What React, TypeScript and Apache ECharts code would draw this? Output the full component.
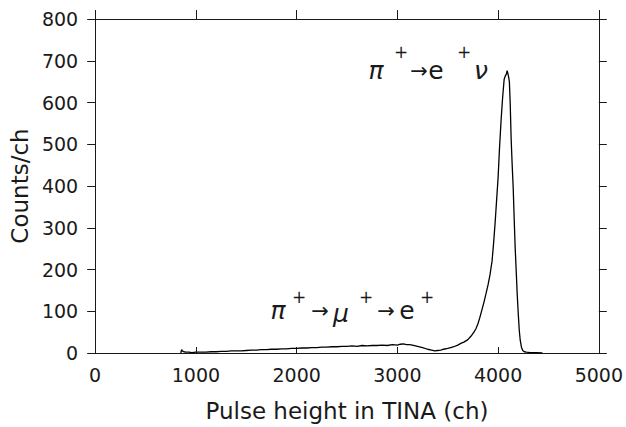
import React, { useEffect, useRef } from "react";
import * as echarts from "echarts";

const channels = [
  850, 858, 865, 880, 900, 930, 960, 1000, 1050, 1100, 1150, 1200, 1250, 1300, 1350, 1400, 1450, 1500,
  1550, 1600, 1650, 1700, 1750, 1800, 1850, 1900, 1950, 2000, 2050, 2100, 2150, 2200, 2250, 2300, 2350,
  2400, 2450, 2500, 2550, 2600, 2650, 2700, 2750, 2800, 2850, 2900, 2950, 3000, 3030, 3060, 3090, 3120,
  3150, 3200, 3250, 3300, 3340, 3370, 3400, 3430, 3460, 3500, 3530, 3560, 3600, 3630, 3660, 3700, 3730,
  3760, 3780, 3800, 3820, 3840, 3860, 3880, 3900, 3920, 3940, 3955, 3970, 3985, 4000, 4015, 4030, 4045,
  4060, 4072, 4082, 4090, 4096, 4104, 4112, 4120, 4130, 4140, 4150, 4160, 4170, 4180, 4190, 4200, 4210,
  4220, 4232, 4245, 4260, 4280, 4320, 4380, 4440,
];

const counts = [
  0, 8, 5, 3, 2, 2, 1, 2, 2, 2, 3, 3, 4, 4, 5, 5, 5, 6,
  7, 7, 8, 8, 9, 9, 10, 10, 11, 11, 12, 12, 13, 13, 14, 14, 15,
  15, 16, 16, 17, 16, 18, 17, 18, 18, 19, 18, 20, 19, 21, 22, 20, 20,
  19, 16, 13, 9, 7, 5, 6, 7, 9, 11, 13, 15, 19, 23, 26, 32, 40,
  50, 58, 70, 86, 104, 122, 142, 163, 188, 220, 262, 310, 365, 420, 495, 558, 612,
  655, 664, 668, 676, 670, 662, 650, 600, 510, 450, 395, 320, 250, 195, 140, 95, 55,
  30, 14, 6, 3, 2, 1, 1, 0,
];

const xTicks = { min: 0, max: 5000, interval: 1000 };
const yTicks = { min: 0, max: 800, interval: 100 };

const FONT = "DejaVu Sans";
const INK = "#1a1a1a";

type Piece = { t: string; x: number; y: number; sup?: boolean; italic?: boolean; arrow?: boolean };

const annoDecay: Piece[] = [
  { t: "π", x: 376, y: 70, italic: true },
  { t: "+", x: 401, y: 52, sup: true },
  { t: "→", x: 419, y: 71, arrow: true },
  { t: "e", x: 436, y: 70 },
  { t: "+", x: 464, y: 52, sup: true },
  { t: "ν", x: 481, y: 70, italic: true },
];

const annoMu: Piece[] = [
  { t: "π", x: 278, y: 310, italic: true },
  { t: "+", x: 299, y: 297, sup: true },
  { t: "→", x: 320, y: 311, arrow: true },
  { t: "μ", x: 341, y: 313, italic: true },
  { t: "+", x: 366, y: 297, sup: true },
  { t: "→", x: 386, y: 311, arrow: true },
  { t: "e", x: 407, y: 310 },
  { t: "+", x: 427, y: 297, sup: true },
];

function pieces(list: Piece[]) {
  return list.map((p) => ({
    type: "text",
    x: p.x,
    y: p.y,
    style: {
      text: p.t,
      fontFamily: FONT,
      fontSize: p.sup ? 17 : p.arrow ? 21 : 25,
      fontStyle: p.italic ? "italic" : "normal",
      fontWeight: "normal",
      fill: INK,
      align: "center",
      verticalAlign: "middle",
    },
  }));
}

export default function App() {
  const ref = useRef<HTMLDivElement>(null);
  useEffect(() => {
    if (!ref.current) return;
    const chart = echarts.init(ref.current, undefined, { renderer: "svg" });
    const data = channels.map((c, i) => [c, counts[i]]);
    const axisLine = { show: true, onZero: false, lineStyle: { color: INK, width: 1 } };
    const labelStyle = { fontFamily: FONT, fontSize: 19, color: INK, formatter: (v: number) => String(v) };
    chart.setOption({
      animation: false,
      backgroundColor: "#ffffff",
      grid: { left: 94, right: 24, top: 19, bottom: 64, containLabel: false },
      xAxis: [
        {
          type: "value",
          position: "bottom",
          ...xTicks,
          axisLine,
          axisTick: { show: true, inside: true, length: 6, lineStyle: { color: INK } },
          axisLabel: { ...labelStyle, margin: 12 },
          splitLine: { show: false },
          name: "Pulse height in TINA (ch)",
          nameLocation: "middle",
          nameGap: 46,
          nameTextStyle: { fontFamily: FONT, fontSize: 23, color: INK },
        },
        {
          type: "value",
          position: "top",
          ...xTicks,
          axisLine,
          axisTick: { show: true, inside: false, length: 9, lineStyle: { color: INK } },
          axisLabel: { show: false },
          splitLine: { show: false },
        },
      ],
      yAxis: [
        {
          type: "value",
          position: "left",
          ...yTicks,
          axisLine,
          axisTick: { show: true, inside: false, length: 8, lineStyle: { color: INK } },
          axisLabel: { ...labelStyle, margin: 17 },
          splitLine: { show: false },
          name: "Counts/ch",
          nameLocation: "middle",
          nameGap: 63,
          nameTextStyle: { fontFamily: FONT, fontSize: 23, color: INK },
        },
        {
          type: "value",
          position: "right",
          ...yTicks,
          axisLine,
          axisTick: { show: true, inside: false, length: 8, lineStyle: { color: INK } },
          axisLabel: { show: false },
          splitLine: { show: false },
        },
      ],
      series: [
        {
          type: "line",
          data,
          showSymbol: false,
          lineStyle: { color: "#000", width: 1.3 },
          xAxisIndex: 0,
          yAxisIndex: 0,
        },
      ],
      graphic: [...pieces(annoDecay), ...pieces(annoMu)],
    });
    return () => chart.dispose();
  }, []);
  return <div ref={ref} style={{ width: 626, height: 427, position: "absolute", left: 0, top: 0 }} />;
}
